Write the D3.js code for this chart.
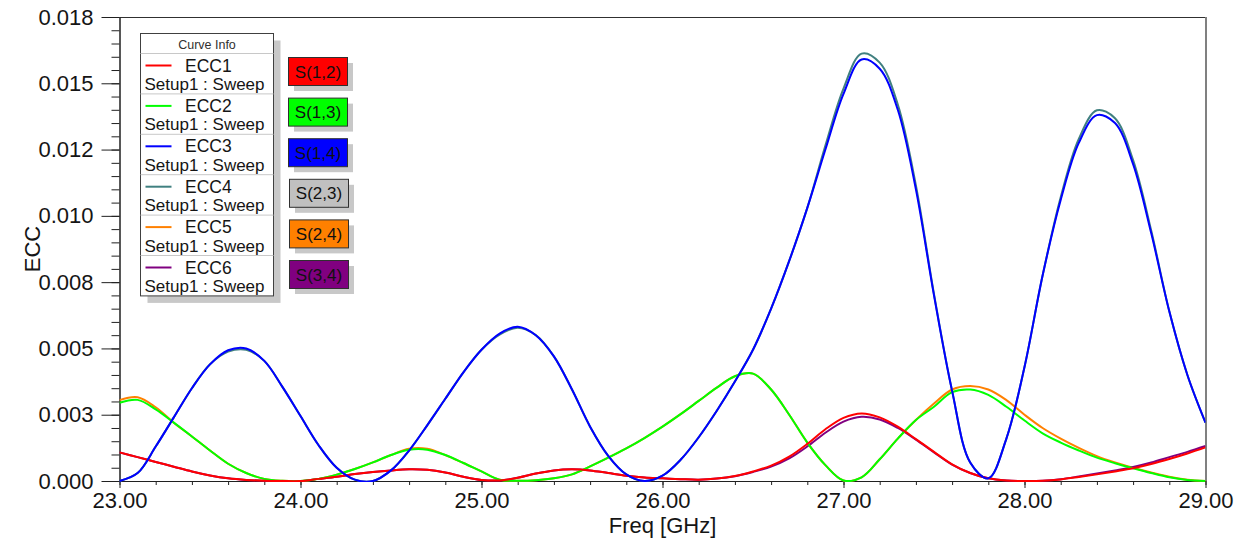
<!DOCTYPE html>
<html>
<head>
<meta charset="utf-8">
<script src="https://cdn.jsdelivr.net/npm/d3@7"></script>
<style>
  body { margin: 0; background: #fff; }
  svg { display: block; font-family: 'Liberation Sans', Arial, sans-serif; }
</style>
</head>
<body>
<div id="chart"></div>
<script>
// frequency grid, GHz
const freq = [
  23.0, 23.1, 23.2, 23.3, 23.4, 23.5, 23.6, 23.7, 23.8, 23.9,
  24.0, 24.1, 24.2, 24.3, 24.4, 24.5, 24.6, 24.7, 24.8, 24.9,
  25.0, 25.1, 25.2, 25.3, 25.4, 25.5, 25.6, 25.7, 25.8, 25.9,
  26.0, 26.1, 26.2, 26.3, 26.4, 26.5, 26.6, 26.7, 26.8, 26.9,
  27.0, 27.1, 27.2, 27.3, 27.4, 27.5, 27.6, 27.7, 27.8, 27.9,
  28.0, 28.1, 28.2, 28.3, 28.4, 28.5, 28.6, 28.7, 28.8, 28.9,
  29.0
]

const ecc1 = [
  0.00108, 0.00090, 0.00072, 0.00054, 0.00036, 0.00021, 0.00010, 0.00004, 0.00001, 0.00000,
  0.00000, 0.00008, 0.00016, 0.00026, 0.00034, 0.00040, 0.00044, 0.00042, 0.00032, 0.00016,
  0.00004, 0.00002, 0.00012, 0.00028, 0.00040, 0.00044, 0.00040, 0.00030, 0.00020, 0.00013,
  0.00010, 0.00007, 0.00005, 0.00009, 0.00019, 0.00036, 0.00058, 0.00092, 0.00140, 0.00195,
  0.00238, 0.00255, 0.00240, 0.00205, 0.00158, 0.00110, 0.00063, 0.00030, 0.00010, 0.00002,
  0.00000, 0.00001, 0.00006, 0.00015, 0.00025, 0.00036, 0.00048, 0.00064, 0.00083, 0.00104,
  0.00127
]

const ecc2 = [
  0.00295, 0.00306, 0.00270, 0.00220, 0.00168, 0.00115, 0.00065, 0.00030, 0.00008, 0.00001,
  0.00000, 0.00008, 0.00024, 0.00045, 0.00070, 0.00098, 0.00118, 0.00118, 0.00098, 0.00068,
  0.00036, 0.00005, 0.00001, 0.00003, 0.00010, 0.00025, 0.00055, 0.00088, 0.00123, 0.00162,
  0.00205, 0.00252, 0.00302, 0.00352, 0.00395, 0.00405, 0.00345, 0.00250, 0.00145, 0.00060,
  0.00002, 0.00014, 0.00082, 0.00160, 0.00230, 0.00280, 0.00335, 0.00345, 0.00325, 0.00280,
  0.00228, 0.00180, 0.00145, 0.00115, 0.00088, 0.00067, 0.00048, 0.00030, 0.00014, 0.00004,
  0.00000
]

const ecc3 = [
  0.00000, 0.00030, 0.00130, 0.00240, 0.00350, 0.00440, 0.00493, 0.00500, 0.00453, 0.00355,
  0.00245, 0.00135, 0.00050, 0.00005, 0.00000, 0.00040, 0.00115, 0.00210, 0.00310, 0.00410,
  0.00495, 0.00556, 0.00582, 0.00550, 0.00470, 0.00345, 0.00205, 0.00095, 0.00025, 0.00000,
  0.00020, 0.00080, 0.00165, 0.00265, 0.00375, 0.00495, 0.00650, 0.00830, 0.01030, 0.01250,
  0.01460, 0.01590, 0.01555, 0.01400, 0.01100, 0.00700, 0.00340, 0.00070, 0.00010, 0.00160,
  0.00430, 0.00775, 0.01060, 0.01275, 0.01380, 0.01350, 0.01195, 0.00935, 0.00640, 0.00400,
  0.00220
]

const ecc4 = [
  0.00000, 0.00030, 0.00130, 0.00240, 0.00350, 0.00440, 0.00488, 0.00495, 0.00453, 0.00355,
  0.00245, 0.00135, 0.00050, 0.00005, 0.00000, 0.00040, 0.00115, 0.00210, 0.00310, 0.00410,
  0.00495, 0.00552, 0.00578, 0.00550, 0.00470, 0.00345, 0.00205, 0.00095, 0.00025, 0.00000,
  0.00020, 0.00080, 0.00165, 0.00265, 0.00375, 0.00495, 0.00650, 0.00830, 0.01030, 0.01265,
  0.01480, 0.01612, 0.01578, 0.01420, 0.01115, 0.00705, 0.00340, 0.00070, 0.00010, 0.00160,
  0.00430, 0.00775, 0.01070, 0.01290, 0.01398, 0.01368, 0.01210, 0.00945, 0.00640, 0.00400,
  0.00220
]

const ecc5 = [
  0.00305, 0.00316, 0.00278, 0.00220, 0.00168, 0.00115, 0.00065, 0.00030, 0.00008, 0.00001,
  0.00000, 0.00008, 0.00024, 0.00045, 0.00070, 0.00098, 0.00122, 0.00122, 0.00098, 0.00068,
  0.00036, 0.00005, 0.00001, 0.00003, 0.00010, 0.00025, 0.00055, 0.00088, 0.00123, 0.00162,
  0.00205, 0.00252, 0.00302, 0.00352, 0.00395, 0.00405, 0.00345, 0.00250, 0.00145, 0.00060,
  0.00002, 0.00014, 0.00082, 0.00160, 0.00230, 0.00292, 0.00345, 0.00358, 0.00345, 0.00305,
  0.00250, 0.00200, 0.00160, 0.00125, 0.00094, 0.00070, 0.00050, 0.00032, 0.00016, 0.00005,
  0.00000
]

const ecc6 = [
  0.00108, 0.00090, 0.00072, 0.00054, 0.00036, 0.00021, 0.00010, 0.00004, 0.00001, 0.00000,
  0.00000, 0.00008, 0.00016, 0.00026, 0.00034, 0.00040, 0.00044, 0.00042, 0.00032, 0.00016,
  0.00004, 0.00002, 0.00012, 0.00028, 0.00040, 0.00044, 0.00040, 0.00030, 0.00020, 0.00013,
  0.00010, 0.00007, 0.00005, 0.00009, 0.00018, 0.00034, 0.00054, 0.00085, 0.00130, 0.00182,
  0.00224, 0.00242, 0.00232, 0.00200, 0.00156, 0.00108, 0.00062, 0.00030, 0.00010, 0.00002,
  0.00000, 0.00001, 0.00007, 0.00017, 0.00028, 0.00040, 0.00053, 0.00070, 0.00090, 0.00110,
  0.00132
]

const curveNames = ['ECC1', 'ECC2', 'ECC3', 'ECC4', 'ECC5', 'ECC6']
const curveColors = ['#ff0000', '#00ff00', '#0000ff', '#408080', '#ff8000', '#800080']
const sweepLabel = 'Setup1 : Sweep'

const portLabels = ['S(1,2)', 'S(1,3)', 'S(1,4)', 'S(2,3)', 'S(2,4)', 'S(3,4)']
const portColors = ['#ff0000', '#00ff00', '#0000ff', '#c0c0c0', '#ff8000', '#800080']

const xTickValues = [23, 24, 25, 26, 27, 28, 29]
const xTickLabels = ['23.00', '24.00', '25.00', '26.00', '27.00', '28.00', '29.00']
const yTickValues = [0, 0.0025, 0.005, 0.0075, 0.01, 0.0125, 0.015, 0.0175]
const yTickLabels = ['0.000', '0.003', '0.005', '0.008', '0.010', '0.012', '0.015', '0.018']

const series = [ecc1, ecc2, ecc3, ecc4, ecc5, ecc6]

const width = 1249
const height = 539
const plot = { left: 119.5, right: 1205.5, top: 17, bottom: 481 }
const textColor = '#151515'

const svg = d3.select('#chart')
  .append('svg')
  .attr('width', width)
  .attr('height', height)

svg.append('rect')
  .attr('width', width)
  .attr('height', height)
  .attr('fill', '#fff')

const xScale = d3.scaleLinear().domain([23, 29]).range([plot.left, plot.right])
const yScale = d3.scaleLinear().domain([0, 0.0175]).range([plot.bottom, plot.top])

// frame on top and right
svg.append('line')
  .attr('x1', plot.left).attr('x2', plot.right)
  .attr('y1', plot.top + 0.5).attr('y2', plot.top + 0.5)
  .attr('stroke', '#303030')
svg.append('line')
  .attr('x1', plot.right + 0.5).attr('x2', plot.right + 0.5)
  .attr('y1', plot.top).attr('y2', plot.bottom)
  .attr('stroke', '#808080')
  .attr('stroke-width', 2)

// minor ticks
const xMinor = d3.axisBottom(xScale)
  .tickValues(d3.range(23, 29.001, 0.2))
  .tickSize(4)
  .tickSizeOuter(0)
  .tickFormat('')
const yMinor = d3.axisLeft(yScale)
  .tickValues(d3.range(0, 0.01751, 0.0005))
  .tickSize(8)
  .tickSizeOuter(0)
  .tickFormat('')

svg.append('g')
  .attr('transform', `translate(0,${plot.bottom})`)
  .call(xMinor)
svg.append('g')
  .attr('transform', `translate(${plot.left},0)`)
  .call(yMinor)

// major axes
const xAxis = d3.axisBottom(xScale)
  .tickValues(xTickValues)
  .tickSize(7)
  .tickPadding(4)
  .tickSizeOuter(0)
  .tickFormat((d, i) => xTickLabels[i])
const yAxis = d3.axisLeft(yScale)
  .tickValues(yTickValues)
  .tickSize(18)
  .tickPadding(8)
  .tickSizeOuter(0)
  .tickFormat((d, i) => yTickLabels[i])

const xAxisG = svg.append('g')
  .attr('transform', `translate(0,${plot.bottom})`)
  .call(xAxis)
const yAxisG = svg.append('g')
  .attr('transform', `translate(${plot.left},0)`)
  .call(yAxis)

svg.selectAll('.tick line, .domain').attr('stroke', '#202020')
;[xAxisG, yAxisG].forEach(a => {
  a.attr('font-family', null)
    .attr('font-size', 22)
  a.selectAll('text').attr('fill', textColor)
})

// axis titles
svg.append('text')
  .attr('x', (plot.left + plot.right) / 2)
  .attr('y', 533)
  .attr('text-anchor', 'middle')
  .attr('font-size', 22)
  .attr('fill', textColor)
  .text('Freq [GHz]')

svg.append('text')
  .attr('transform', `translate(40,${(plot.top + plot.bottom) / 2}) rotate(-90)`)
  .attr('text-anchor', 'middle')
  .attr('font-size', 22)
  .attr('fill', textColor)
  .text('ECC')

// curves
svg.append('clipPath')
  .attr('id', 'plot-clip')
  .append('rect')
  .attr('x', plot.left)
  .attr('y', plot.top - 2)
  .attr('width', plot.right - plot.left)
  .attr('height', plot.bottom - plot.top + 3)

const line = d3.line()
  .x((d, i) => xScale(freq[i]))
  .y(d => yScale(d))
  .curve(d3.curveCatmullRom.alpha(0.5))

const drawOrder = [3, 4, 5, 1, 0, 2]
const curvesG = svg.append('g').attr('clip-path', 'url(#plot-clip)')
drawOrder.forEach(k => {
  curvesG.append('path')
    .datum(series[k])
    .attr('d', line)
    .attr('fill', 'none')
    .attr('stroke', curveColors[k])
    .attr('stroke-width', 2)
})

// legend box
const lg = { x: 140.5, y: 33.5, w: 133, head: 20, row: 40.4 }
const lgH = lg.head + lg.row * curveNames.length

svg.append('rect')
  .attr('x', lg.x + 7).attr('y', lg.y + 7)
  .attr('width', lg.w).attr('height', lgH)
  .attr('fill', '#c8c8c8')
svg.append('rect')
  .attr('x', lg.x).attr('y', lg.y)
  .attr('width', lg.w).attr('height', lgH)
  .attr('fill', '#fff')
  .attr('stroke', '#404040')

svg.append('text')
  .attr('x', lg.x + lg.w / 2)
  .attr('y', lg.y + 15)
  .attr('text-anchor', 'middle')
  .attr('font-size', 12.5)
  .attr('fill', '#303030')
  .text('Curve Info')

const rows = svg.selectAll('.lg-row')
  .data(curveNames)
  .enter()
  .append('g')
  .attr('class', 'lg-row')
  .attr('transform', (d, i) => `translate(${lg.x},${lg.y + lg.head + i * lg.row})`)

rows.append('line')
  .attr('x1', 0).attr('x2', lg.w)
  .attr('y1', 0).attr('y2', 0)
  .attr('stroke', '#c8c8c8')
rows.append('line')
  .attr('x1', 5).attr('x2', 31)
  .attr('y1', 12).attr('y2', 12)
  .attr('stroke', (d, i) => curveColors[i])
  .attr('stroke-width', 2)
rows.append('text')
  .attr('x', 44.5)
  .attr('y', 18)
  .attr('font-size', 17.5)
  .attr('fill', textColor)
  .text(d => d)
rows.append('text')
  .attr('x', 4)
  .attr('y', 36.5)
  .attr('font-size', 17)
  .attr('fill', textColor)
  .text(sweepLabel)

// port tags next to the legend
const tag = { x: 288, y: 57, w: 59, h: 28, step: 40.6 }
const tags = svg.selectAll('.tag')
  .data(portLabels)
  .enter()
  .append('g')
  .attr('class', 'tag')
  .attr('transform', (d, i) => `translate(${tag.x + (i > 2 ? 1 : 0)},${tag.y + i * tag.step})`)

tags.append('rect')
  .attr('x', 6).attr('y', 6)
  .attr('width', tag.w).attr('height', tag.h)
  .attr('fill', '#c8c8c8')
tags.append('rect')
  .attr('x', 0.5).attr('y', 0.5)
  .attr('width', tag.w).attr('height', tag.h)
  .attr('fill', (d, i) => portColors[i])
  .attr('stroke', '#303030')
tags.append('text')
  .attr('x', tag.w / 2 + 0.5)
  .attr('y', tag.h / 2 + 0.5)
  .attr('dy', '0.36em')
  .attr('text-anchor', 'middle')
  .attr('font-size', 17)
  .attr('fill', '#111')
  .text(d => d)
</script>
</body>
</html>
